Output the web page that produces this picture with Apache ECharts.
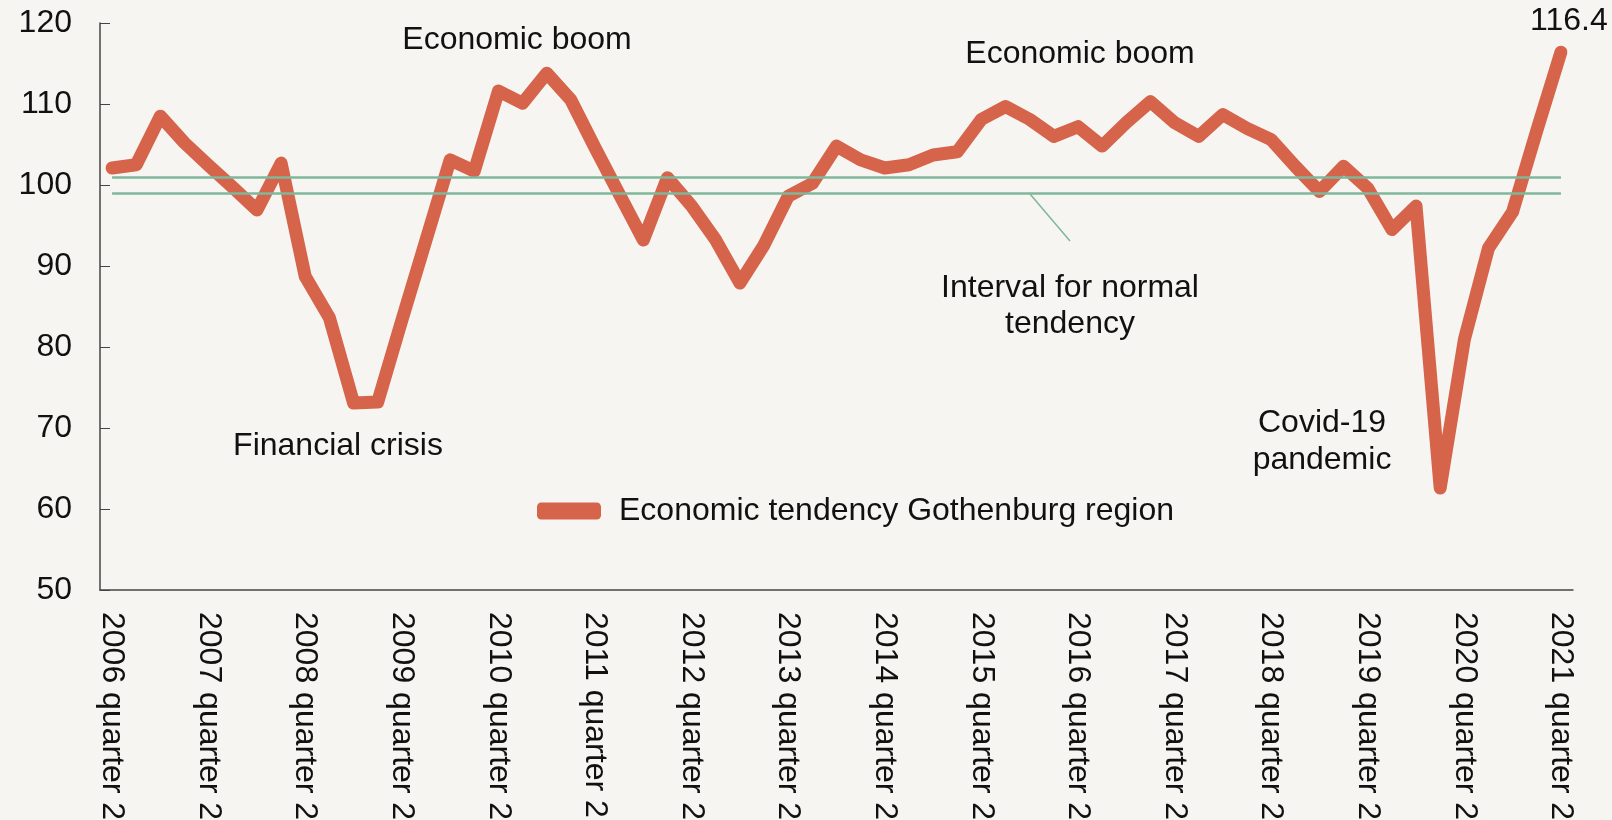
<!DOCTYPE html>
<html>

<head>
    <meta charset="UTF-8">
    <title>Economic tendency Gothenburg region</title>
    <script src="https://cdn.jsdelivr.net/npm/echarts/dist/echarts.min.js"></script>
    <style>
        body { margin: 0; background: #F6F5F1; }
    </style>
</head>

<body>
    <div id="chart" style="width: 1612px;height:820px;"></div>
    <script type="text/javascript">
        var myChart = echarts.init(document.getElementById('chart'));

        // quarters 2006 Q2 .. 2021 Q2
        var years = [2006, 2007, 2008, 2009, 2010, 2011, 2012, 2013, 2014, 2015, 2016, 2017, 2018, 2019, 2020, 2021];
        var quarters = [];
        years.forEach(function (y) {
            [1, 2, 3, 4].forEach(function (q) {
                if ((y === 2006 && q < 2) || (y === 2021 && q > 2)) return;
                quarters.push(y + ' quarter ' + q);
            });
        });

        var tendency = [
            102.1, 102.5, 108.5, 105.2, 102.4, 99.7, 96.9, 102.7, 88.7, 83.6,
            73.1, 73.2, 83.3, 93.2, 103.1, 101.7, 111.6, 110.1, 113.8, 110.5,
            104.6, 98.9, 93.2, 100.9, 97.4, 93.2, 87.9, 92.6, 98.6, 100.2,
            104.8, 103.1, 102.1, 102.5, 103.7, 104.1, 108.1, 109.7, 108.1, 106.0,
            107.2, 104.8, 107.7, 110.3, 107.7, 106.0, 108.7, 107.0, 105.6, 102.3,
            99.2, 102.3, 99.6, 94.5, 97.4, 62.6, 80.9, 92.2, 96.7, 106.7,
            116.4
        ];
        var normalHigh = 101;
        var normalLow = 99;

        var red = '#D5644B';
        var green = '#7FB79B';
        var font = '"Liberation Sans", Arial, sans-serif';

        // only the last point carries a value label
        var lineData = tendency.map(function (v, i) {
            if (i === tendency.length - 1) {
                return {
                    value: v,
                    label: {
                        show: true, position: 'top', distance: 14, offset: [8, 0],
                        fontSize: 32, color: '#111', fontFamily: font
                    }
                };
            }
            return v;
        });

        var lastIdx = quarters.length - 1;

        var option = {
            backgroundColor: '#F6F5F1',
            animation: false,
            textStyle: { fontFamily: font },
            grid: { left: 100, right: 39, top: 23, bottom: 230, containLabel: false, outerBoundsMode: 'none' },
            legend: {
                data: ['Economic tendency Gothenburg region'],
                left: 532,
                top: 490,
                icon: 'roundRect',
                itemWidth: 64,
                itemHeight: 17,
                textStyle: { fontSize: 32, color: '#111', fontFamily: font, padding: [0, 0, 0, 13] }
            },
            xAxis: {
                type: 'category',
                data: quarters,
                boundaryGap: true,
                axisLine: { lineStyle: { color: '#444', width: 1.5 } },
                axisTick: { inside: true, length: 7, interval: 0, lineStyle: { color: '#444' } },
                axisLabel: {
                    interval: 3, rotate: -90, margin: 22,
                    fontSize: 32, color: '#111', fontFamily: font
                }
            },
            yAxis: {
                type: 'value',
                min: 50,
                max: 120,
                interval: 10,
                splitLine: { show: false },
                axisLine: { show: true, lineStyle: { color: '#444', width: 1.5 } },
                axisTick: { show: true, inside: true, length: 10, lineStyle: { color: '#444' } },
                axisLabel: { margin: 28, fontSize: 32, color: '#111', fontFamily: font, padding: [4, 0, 0, 0] }
            },
            series: [
                {
                    name: 'Economic tendency Gothenburg region',
                    type: 'line',
                    data: lineData,
                    showSymbol: true,
                    symbol: 'circle',
                    symbolSize: 1,
                    color: red,
                    itemStyle: { color: red },
                    lineStyle: { color: red, width: 13, cap: 'round', join: 'round' },
                    z: 2
                },
                {
                    name: 'Interval for normal tendency',
                    type: 'line',
                    data: [],
                    z: 5,
                    markLine: {
                        silent: true,
                        symbol: 'none',
                        label: { show: false },
                        lineStyle: { color: green, width: 2.5, type: 'solid' },
                        data: [
                            [{ coord: [0, normalHigh] }, { coord: [lastIdx, normalHigh] }],
                            [{ coord: [0, normalLow] }, { coord: [lastIdx, normalLow] }]
                        ]
                    }
                }
            ],
            graphic: [
                { type: 'line', shape: { x1: 1030, y1: 194, x2: 1070, y2: 241 }, style: { stroke: green, lineWidth: 1.5 } },
                { type: 'text', x: 517, y: 40, style: { text: 'Economic boom', font: '32px ' + font, fill: '#111', textAlign: 'center', textVerticalAlign: 'middle' } },
                { type: 'text', x: 1080, y: 54, style: { text: 'Economic boom', font: '32px ' + font, fill: '#111', textAlign: 'center', textVerticalAlign: 'middle' } },
                { type: 'text', x: 1070, y: 306, style: { text: 'Interval for normal\ntendency', font: '32px ' + font, lineHeight: 36, fill: '#111', textAlign: 'center', textVerticalAlign: 'middle' } },
                { type: 'text', x: 338, y: 446, style: { text: 'Financial crisis', font: '32px ' + font, fill: '#111', textAlign: 'center', textVerticalAlign: 'middle' } },
                { type: 'text', x: 1322, y: 442, style: { text: 'Covid-19\npandemic', font: '32px ' + font, lineHeight: 37, fill: '#111', textAlign: 'center', textVerticalAlign: 'middle' } }
            ]
        };

        myChart.setOption(option);
    </script>
</body>

</html>
